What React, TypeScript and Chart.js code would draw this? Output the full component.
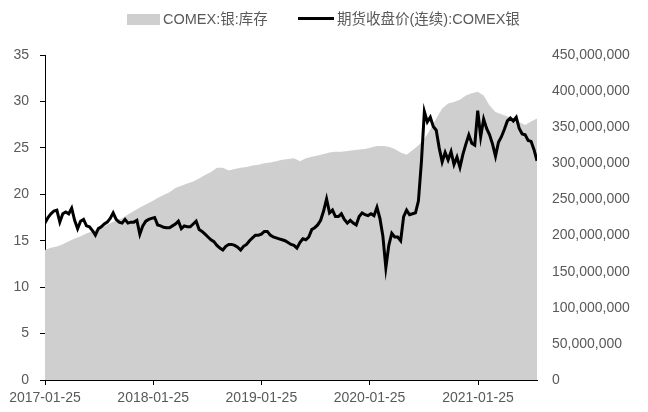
import React, { useEffect, useRef } from "react";
import { Chart, registerables } from "chart.js";

Chart.register(...registerables);

const startDate = "2017-01-25";
const xTickLabels = ["2017-01-25", "2018-01-25", "2019-01-25", "2020-01-25", "2021-01-25"];
const priceStepDays = 10;
const stockStepDays = 20;

const seriesStockName = "COMEX:银:库存";
const seriesPriceName = "期货收盘价(连续):COMEX银";

// 期货收盘价(连续):COMEX银, every 10 days from 2017-01-25
const priceValues = [
  16.9, 17.5, 17.9, 18.2, 18.3, 17.0, 17.9, 18.1, 17.9, 18.5,
  17.2, 16.3, 17.1, 17.3, 16.6, 16.5, 16.1, 15.6, 16.3, 16.5,
  16.8, 17.0, 17.4, 18.0, 17.3, 17.0, 16.9, 17.3, 16.9, 17.0,
  17.0, 17.2, 15.7, 16.6, 17.1, 17.3, 17.4, 17.5, 16.7, 16.6,
  16.45, 16.4, 16.4, 16.6, 16.8, 17.1, 16.3, 16.6, 16.5, 16.5,
  16.8, 17.1, 16.2, 16.0, 15.7, 15.4, 15.1, 14.9, 14.5, 14.2,
  14.0, 14.4, 14.6, 14.6, 14.5, 14.3, 14.0, 14.4, 14.6, 15.0,
  15.3, 15.6, 15.6, 15.7, 16.0, 16.0, 15.6, 15.4, 15.3, 15.2,
  15.1, 15.0, 14.8, 14.6, 14.5, 14.2, 14.8, 15.2, 15.1, 15.4,
  16.2, 16.4, 16.7, 17.2, 18.2, 19.5, 18.0, 18.3, 17.6, 17.6,
  17.9, 17.3, 16.9, 17.2, 16.9, 16.7, 17.6, 18.0, 17.8, 17.7,
  17.9, 17.7, 18.6, 17.4, 15.5, 12.1, 14.5, 15.8, 15.4, 15.4,
  15.0, 17.6, 18.3, 17.8, 17.9, 18.0, 19.3, 23.5, 28.9, 27.8,
  28.3, 27.3, 26.9, 25.0, 23.5, 24.5, 23.7, 24.6, 23.2, 24.0,
  22.9, 24.3, 25.4, 26.4, 25.5, 25.3, 29.0, 26.2, 28.1, 27.1,
  26.4, 25.4, 24.1, 25.6, 26.2, 27.0, 27.9, 28.2, 27.9, 28.3,
  27.1, 26.5, 26.4, 25.8, 25.7, 24.8, 23.6,
];

// COMEX:银:库存, every 20 days from 2017-01-25
const stockValues = [
  180e6, 183e6, 185e6, 188e6, 192e6, 196e6, 199e6, 203e6, 206e6, 209e6,
  213e6, 217e6, 221e6, 224e6, 229e6, 234e6, 239e6, 243e6, 247e6, 252e6,
  256e6, 260e6, 266e6, 269e6, 272e6, 275e6, 279e6, 284e6, 288e6, 294e6,
  294e6, 290e6, 292e6, 294e6, 295e6, 297e6, 298e6, 300e6, 301e6, 303e6,
  305e6, 306e6, 307e6, 303e6, 307e6, 309e6, 311e6, 313e6, 315e6, 316e6,
  316e6, 317e6, 318e6, 319e6, 320e6, 322e6, 324e6, 324e6, 323e6, 320e6,
  315e6, 312e6, 318e6, 325e6, 334e6, 347e6, 362e6, 376e6, 383e6, 385e6,
  388e6, 394e6, 397e6, 399e6, 394e6, 380e6, 371e6, 368e6, 365e6, 362e6,
  357e6, 353e6, 358e6, 362e6,
];

const DAY = 86400000;
const t0 = Date.parse(startDate + "T00:00:00Z");
const dayOf = (s: string) => Math.round((Date.parse(s + "T00:00:00Z") - t0) / DAY);

const FONT = "'Liberation Sans', 'Noto Sans CJK SC', sans-serif";
const TEXT = "#595959";
const GRAY = "#d0cfd0";

export default function App() {
  const ref = useRef<HTMLCanvasElement | null>(null);

  useEffect(() => {
    document.body.style.margin = "0";
    const canvas = ref.current;
    if (!canvas) return;
    const priceData = priceValues.map((v, i) => ({ x: i * priceStepDays, y: v }));
    const stockData = stockValues.map((v, i) => ({ x: i * stockStepDays, y: v }));
    const tickDays = xTickLabels.map(dayOf);
    const xMax = Math.max((priceValues.length - 1) * priceStepDays, (stockValues.length - 1) * stockStepDays);

    const chart = new Chart(canvas, {
      type: "line",
      data: {
        datasets: [
          {
            label: seriesPriceName,
            data: priceData,
            yAxisID: "yL",
            borderColor: "#000000",
            borderWidth: 3,
            pointRadius: 0,
            tension: 0,
            fill: false,
            order: 0,
          },
          {
            label: seriesStockName,
            data: stockData,
            yAxisID: "yR",
            borderColor: GRAY,
            backgroundColor: GRAY,
            borderWidth: 0,
            pointRadius: 0,
            tension: 0,
            fill: "origin",
            order: 1,
          },
        ],
      },
      options: {
        responsive: false,
        animation: false,
        devicePixelRatio: 1,
        layout: { padding: { top: 55, left: 0, right: 0, bottom: 0 } },
        plugins: { legend: { display: false }, tooltip: { enabled: false } },
        scales: {
          x: {
            type: "linear",
            min: 0,
            max: xMax,
            afterBuildTicks: (scale: any) => {
              scale.ticks = tickDays.map((d) => ({ value: d }));
            },
            afterFit: (scale: any) => {
              scale.height = 32;
            },
            ticks: {
              autoSkip: false,
              maxRotation: 0,
              padding: 5,
              color: TEXT,
              font: { family: FONT, size: 14 },
              callback: (v: any) => {
                const idx = tickDays.indexOf(Number(v));
                return idx >= 0 ? xTickLabels[idx] : "";
              },
            },
            grid: { display: true, drawOnChartArea: false, drawTicks: true, tickLength: 5, color: "#000" },
            border: { display: true, color: "#000", width: 1 },
          },
          yL: {
            position: "left",
            min: 0,
            max: 35,
            afterFit: (scale: any) => {
              scale.width = 45;
            },
            ticks: { stepSize: 5, padding: 11, color: TEXT, font: { family: FONT, size: 14 } },
            grid: { display: true, drawOnChartArea: false, drawTicks: true, tickLength: 5, color: "#000" },
            border: { display: true, color: "#000", width: 1 },
          },
          yR: {
            position: "right",
            min: 0,
            max: 450000000,
            afterFit: (scale: any) => {
              scale.width = 111;
            },
            ticks: {
              stepSize: 50000000,
              padding: 15,
              color: TEXT,
              font: { family: FONT, size: 14 },
              callback: (v: any) => Number(v).toLocaleString("en-US"),
            },
            grid: { display: false, drawTicks: false },
            border: { display: false },
          },
        },
      },
    });
    return () => chart.destroy();
  }, []);

  const legendText: React.CSSProperties = {
    position: "absolute",
    top: 10,
    fontFamily: FONT,
    fontSize: 14.5,
    color: TEXT,
    lineHeight: "18px",
    whiteSpace: "nowrap",
  };

  return (
    <div style={{ position: "relative", width: 648, height: 412, background: "#fff" }}>
      <canvas ref={ref} width={648} height={412} style={{ display: "block" }} />
      <div style={{ position: "absolute", left: 127, top: 14, width: 33, height: 11, background: GRAY }} />
      <span style={{ ...legendText, left: 163 }}>{seriesStockName}</span>
      <div style={{ position: "absolute", left: 298, top: 17, width: 36, height: 3, background: "#000" }} />
      <span style={{ ...legendText, left: 337 }}>{seriesPriceName}</span>
    </div>
  );
}
